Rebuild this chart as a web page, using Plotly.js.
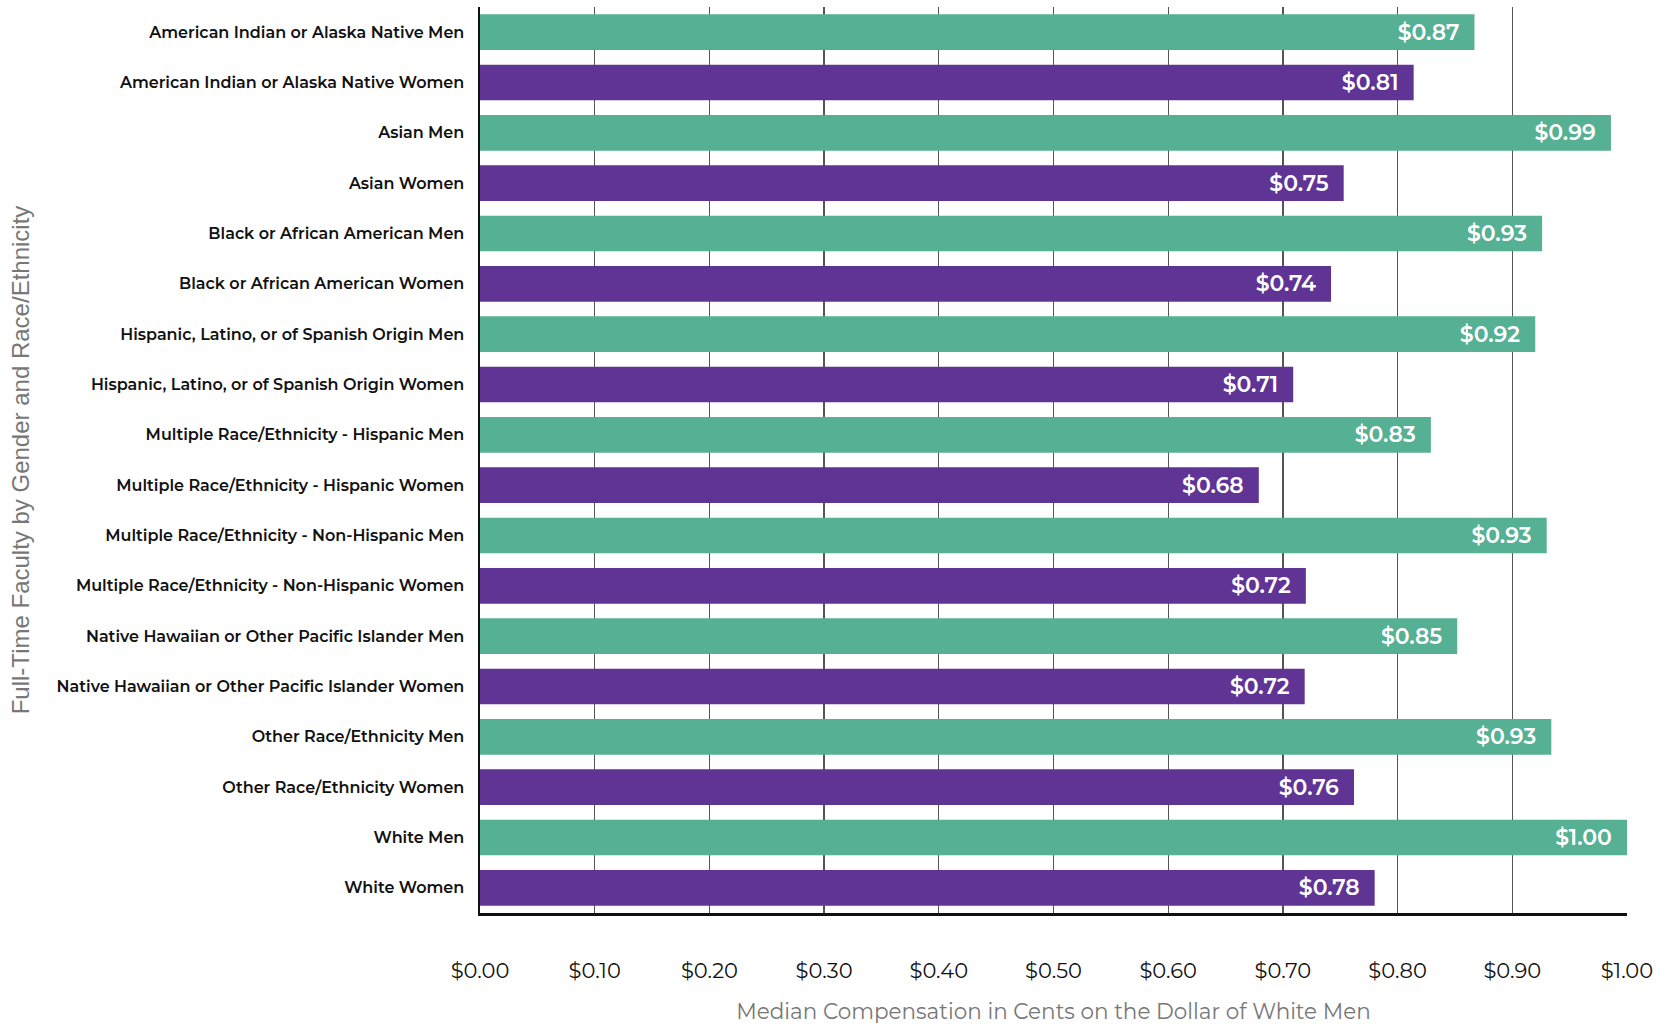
<!DOCTYPE html>
<html>
<head>
<meta charset="utf-8">
<script src="https://cdn.plot.ly/plotly-3.0.1.min.js"></script>
<style>html,body{margin:0;padding:0;background:#fff;}#chart{width:1660px;height:1024px;}</style>
</head>
<body>
<div id="chart"></div>
<script>
const categories = [
  "American Indian or Alaska Native Men",
  "American Indian or Alaska Native Women",
  "Asian Men",
  "Asian Women",
  "Black or African American Men",
  "Black or African American Women",
  "Hispanic, Latino, or of Spanish Origin Men",
  "Hispanic, Latino, or of Spanish Origin Women",
  "Multiple Race/Ethnicity - Hispanic Men",
  "Multiple Race/Ethnicity - Hispanic Women",
  "Multiple Race/Ethnicity - Non-Hispanic Men",
  "Multiple Race/Ethnicity - Non-Hispanic Women",
  "Native Hawaiian or Other Pacific Islander Men",
  "Native Hawaiian or Other Pacific Islander Women",
  "Other Race/Ethnicity Men",
  "Other Race/Ethnicity Women",
  "White Men",
  "White Women"
];
const values = [0.867, 0.814, 0.986, 0.753, 0.926, 0.742, 0.920, 0.709, 0.829, 0.679, 0.930, 0.720, 0.852, 0.719, 0.934, 0.762, 1.000, 0.780];
const tickValues = [0, 0.1, 0.2, 0.3, 0.4, 0.5, 0.6, 0.7, 0.8, 0.9, 1.0];

const menColor = "#56b093";
const womenColor = "#5f3494";
const barColors = categories.map(c => /Women$/.test(c) ? womenColor : menColor);

const font = "Montserrat, 'Open Sans', sans-serif";

const trace = {
  type: "bar",
  orientation: "h",
  y: categories,
  x: values,
  marker: {color: barColors},
  texttemplate: "$%{x:.2f}\u00a0\u00a0",
  textposition: "inside",
  insidetextanchor: "end",
  textangle: 0,
  textfont: {family: font, size: 22, color: "#ffffff", weight: 600},
  hoverinfo: "none",
  cliponaxis: false
};

const layout = {
  width: 1660,
  height: 1024,
  margin: {l: 480, r: 33, t: 7, b: 111},
  paper_bgcolor: "#ffffff",
  plot_bgcolor: "#ffffff",
  bargap: 0.29,
  showlegend: false,
  font: {family: font, color: "#111"},
  xaxis: {
    range: [0, 1],
    tickvals: tickValues,
    tickformat: "$.2f",
    showgrid: true,
    gridcolor: "#555",
    gridwidth: 1.2,
    zeroline: false,
    showline: true,
    linecolor: "#111",
    linewidth: 2.5,
    ticks: "",
    ticklabelstandoff: 37,
    tickfont: {family: font, size: 21, color: "#111"},
    title: {text: "Median Compensation in Cents on the Dollar of White Men", font: {family: font, size: 21.5, color: "#777"}, standoff: 22}
  },
  yaxis: {
    autorange: "reversed",
    showgrid: false,
    zeroline: false,
    showline: true,
    linecolor: "#111",
    linewidth: 2.5,
    ticks: "",
    ticklabelstandoff: 10,
    tickfont: {family: font, size: 16, color: "#111", weight: 600},
    title: {text: "Full-Time Faculty by Gender and Race/Ethnicity", font: {family: "'Liberation Sans', Arial, sans-serif", size: 24, color: "#777"}, standoff: 20}
  }
};

Plotly.newPlot("chart", [trace], layout, {displayModeBar: false, staticPlot: true});
</script>
</body>
</html>
